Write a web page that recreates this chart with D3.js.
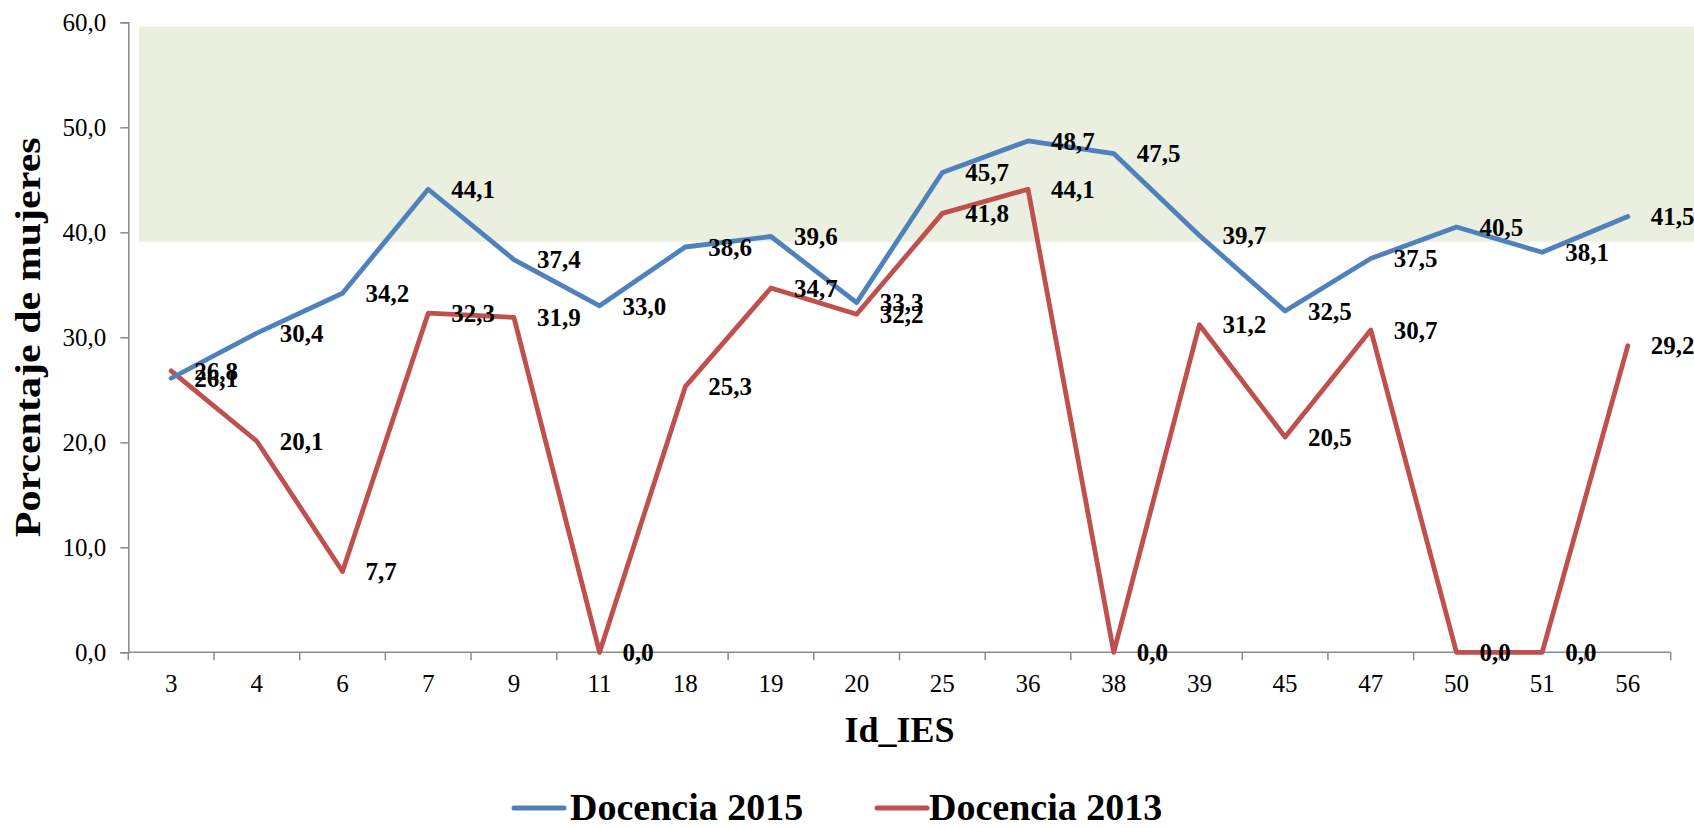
<!DOCTYPE html>
<html>
<head>
<meta charset="utf-8">
<script src="https://cdn.jsdelivr.net/npm/d3@7"></script>
<style>
html,body{margin:0;padding:0;background:#fff;}
svg{display:block;font-family:"Liberation Serif","Times New Roman",serif;}
</style>
</head>
<body>
<svg id="chart" width="1694" height="828"></svg>
<script>
const categories = ["3","4","6","7","9","11","18","19","20","25","36","38","39","45","47","50","51","56"];
const docencia2015 = [26.1,30.4,34.2,44.1,37.4,33.0,38.6,39.6,33.3,45.7,48.7,47.5,39.7,32.5,37.5,40.5,38.1,41.5];
const docencia2013 = [26.8,20.1,7.7,32.3,31.9,0.0,25.3,34.7,32.2,41.8,44.1,0.0,31.2,20.5,30.7,0.0,0.0,29.2];
const yTicks = [0,10,20,30,40,50,60];
const bandRange = [39.1, 59.6];
const seriesNames = ["Docencia 2015","Docencia 2013"];
const seriesColors = ["#4F81BD","#C0504D"];

(function(){
const svg = d3.select("#chart");
const mLeft = 128.3, mRight = 1670.7, mTop = 22.3, mBottom = 652.3;

const x = d3.scaleBand().domain(categories).range([mLeft, mRight]).paddingInner(0).paddingOuter(0);
const y = d3.scaleLinear().domain([0, 60]).range([mBottom, mTop]);
const fmt = v => d3.format(".1f")(v).replace(".", ",");

// shaded band
svg.append("rect")
  .attr("x", mLeft + 10.7)
  .attr("y", y(bandRange[1]))
  .attr("width", 1694 - (mLeft + 10.7))
  .attr("height", y(bandRange[0]) - y(bandRange[1]))
  .attr("fill", "#EBEFDF");

// y axis
const yAxis = d3.axisLeft(y).tickValues(yTicks).tickFormat(fmt).tickSize(8).tickPadding(14);
const gy = svg.append("g").attr("transform", `translate(${mLeft},0)`).call(yAxis);
gy.select(".domain").attr("stroke", "#8c8c8c").attr("stroke-width", 1.5);
gy.selectAll(".tick line").attr("stroke", "#8c8c8c").attr("stroke-width", 1.5);
gy.selectAll(".tick text").attr("font-size", 25).attr("fill", "#000")
  .attr("font-family", "'Liberation Serif','Times New Roman',serif");

// x axis (ticks at category boundaries)
const gx = svg.append("g").attr("transform", `translate(0,${mBottom})`);
gx.append("line").attr("x1", mLeft).attr("x2", mRight).attr("y1", 0).attr("y2", 0)
  .attr("stroke", "#8c8c8c").attr("stroke-width", 1.5);
const boundaries = categories.map(c => x(c)).concat([x(categories[categories.length-1]) + x.bandwidth()]);
gx.selectAll("line.tk").data(boundaries).enter().append("line").attr("class","tk")
  .attr("x1", d => d).attr("x2", d => d).attr("y1", 0).attr("y2", 8)
  .attr("stroke", "#8c8c8c").attr("stroke-width", 1.5);
gx.selectAll("text.cl").data(categories).enter().append("text").attr("class","cl")
  .attr("x", d => x(d) + x.bandwidth()/2).attr("y", 40)
  .attr("text-anchor", "middle").attr("font-size", 25).attr("fill", "#000").text(d => d);

// axis titles
svg.append("text").attr("x", (mLeft+mRight)/2).attr("y", 742).attr("text-anchor","middle")
  .attr("font-size", 36).attr("font-weight","bold").text("Id_IES");
svg.append("text").attr("transform", `translate(40,${(mTop+mBottom)/2}) rotate(-90)`)
  .attr("text-anchor","middle").attr("font-size", 36).attr("font-weight","bold")
  .attr("textLength", 400).attr("lengthAdjust","spacingAndGlyphs")
  .text("Porcentaje de mujeres");

// lines
const seriesData = [docencia2015, docencia2013];
const line = d3.line().x((d,i) => x(categories[i]) + x.bandwidth()/2).y(d => y(d));
[1,0].forEach(s => {
  svg.append("path").datum(seriesData[s]).attr("d", line)
    .attr("fill","none").attr("stroke", seriesColors[s]).attr("stroke-width", 4.8)
    .attr("stroke-linejoin","round").attr("stroke-linecap","round");
});

// data labels (right of point)
[0,1].forEach(s => {
  svg.append("g").selectAll("text").data(seriesData[s]).enter().append("text")
    .attr("x", (d,i) => x(categories[i]) + x.bandwidth()/2 + 23)
    .attr("y", d => y(d))
    .attr("dy", "0.35em")
    .attr("font-size", 25).attr("font-weight","bold").attr("fill","#000")
    .text(d => fmt(d));
});

// legend
const legendItems = [{x: 514, tx: 570}, {x: 877, tx: 929}];
legendItems.forEach((l, i) => {
  svg.append("line").attr("x1", l.x).attr("x2", l.x + 50).attr("y1", 808).attr("y2", 808)
    .attr("stroke", seriesColors[i]).attr("stroke-width", 5).attr("stroke-linecap","round");
  svg.append("text").attr("x", l.tx).attr("y", 820).attr("font-size", 38).attr("font-weight","bold")
    .text(seriesNames[i]);
});
})();
</script>
</body>
</html>
